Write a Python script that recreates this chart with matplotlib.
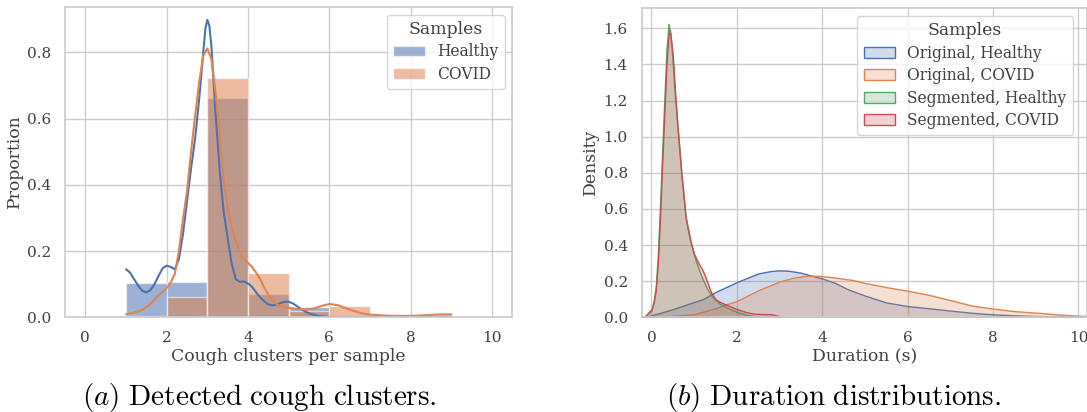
import matplotlib
matplotlib.use("Agg")
import matplotlib.pyplot as plt
import seaborn as sns
from matplotlib.patches import Patch

# --- left panel: detected cough clusters (histogram + kde) ---
bin_edges = [1, 2, 3, 4, 5, 6, 7, 8, 9, 10]
healthy_prop = [0.105, 0.108, 0.662, 0.071, 0.032, 0.0, 0.0, 0.002, 0.0]
covid_prop = [0.005, 0.060, 0.723, 0.133, 0.020, 0.033, 0.006, 0.004, 0.004]

kde_healthy_x = [1.0, 1.1, 1.2, 1.3, 1.4, 1.5, 1.6, 1.7, 1.8, 1.9, 2.0, 2.1, 2.2, 2.3,
                 2.4, 2.5, 2.6, 2.7, 2.8, 2.9, 2.95, 3.0, 3.05, 3.1, 3.2, 3.3, 3.4,
                 3.5, 3.6, 3.7, 3.8, 3.9, 4.0, 4.1, 4.2, 4.3, 4.4, 4.5, 4.6, 4.7,
                 4.8, 4.9, 5.0, 5.1, 5.2, 5.3, 5.4, 5.5, 5.6, 5.7, 5.8, 6.0, 6.5,
                 7.0, 7.5, 8.0, 8.5, 9.0]
kde_healthy_y = [0.145, 0.135, 0.115, 0.095, 0.080, 0.075, 0.082, 0.100, 0.125, 0.148,
                 0.156, 0.152, 0.145, 0.175, 0.250, 0.350, 0.450, 0.540, 0.660, 0.800,
                 0.870, 0.898, 0.880, 0.820, 0.620, 0.450, 0.320, 0.240, 0.160, 0.115,
                 0.107, 0.108, 0.102, 0.092, 0.075, 0.060, 0.048, 0.039, 0.036, 0.038,
                 0.043, 0.047, 0.047, 0.042, 0.034, 0.025, 0.018, 0.012, 0.008, 0.005,
                 0.003, 0.001, 0.0005, 0.0005, 0.001, 0.003, 0.001, 0.002]

kde_covid_x = [1.0, 1.2, 1.4, 1.6, 1.8, 2.0, 2.1, 2.2, 2.3, 2.4, 2.5, 2.6, 2.69, 2.8,
               2.9, 3.0, 3.1, 3.2, 3.27, 3.4, 3.5, 3.6, 3.7, 3.8, 3.9, 4.0, 4.1, 4.2,
               4.3, 4.4, 4.5, 4.6, 4.7, 4.8, 5.0, 5.2, 5.4, 5.6, 5.8, 6.0, 6.2, 6.4,
               6.6, 6.8, 7.0, 7.4, 7.8, 8.2, 8.6, 9.0]
kde_covid_y = [0.009, 0.014, 0.022, 0.040, 0.066, 0.088, 0.105, 0.130, 0.200, 0.295,
               0.380, 0.500, 0.598, 0.710, 0.790, 0.812, 0.780, 0.680, 0.598, 0.420,
               0.330, 0.270, 0.230, 0.195, 0.175, 0.164, 0.152, 0.135, 0.115, 0.090,
               0.068, 0.050, 0.040, 0.034, 0.029, 0.025, 0.023, 0.026, 0.034, 0.040,
               0.037, 0.028, 0.019, 0.012, 0.008, 0.005, 0.004, 0.005, 0.008, 0.009]

# --- right panel: duration distributions ---
orig_healthy_x = [-0.2, 0.0, 0.5, 1.0, 1.2, 1.5, 2.0, 2.5, 2.8, 3.0, 3.2, 3.5, 3.8, 4.0,
                  4.3, 4.6, 5.0, 5.5, 6.0, 6.5, 7.0, 7.5, 8.0, 8.5, 9.0, 9.5, 10.0, 10.3]
orig_healthy_y = [0.004, 0.010, 0.045, 0.085, 0.100, 0.140, 0.195, 0.243, 0.256, 0.260,
                  0.258, 0.247, 0.227, 0.215, 0.190, 0.155, 0.120, 0.082, 0.062, 0.050,
                  0.037, 0.025, 0.016, 0.011, 0.007, 0.005, 0.004, 0.003]

orig_covid_x = [-0.2, 0.0, 0.5, 1.0, 1.2, 1.5, 1.7, 2.0, 2.5, 3.0, 3.3, 3.6, 3.8, 4.0,
                4.3, 4.7, 5.0, 5.5, 6.0, 6.5, 7.0, 7.5, 8.0, 8.5, 9.0, 9.5, 10.0, 10.3]
orig_covid_y = [0.001, 0.003, 0.008, 0.018, 0.030, 0.050, 0.068, 0.090, 0.150, 0.198,
                0.218, 0.229, 0.230, 0.228, 0.220, 0.207, 0.190, 0.167, 0.147, 0.124,
                0.095, 0.065, 0.048, 0.034, 0.026, 0.016, 0.009, 0.006]

seg_healthy_x = [-0.2, -0.13, 0.0, 0.05, 0.1, 0.15, 0.2, 0.25, 0.3, 0.35, 0.4, 0.45,
                 0.5, 0.55, 0.6, 0.7, 0.8, 0.9, 1.0, 1.1, 1.2, 1.3, 1.4, 1.5, 1.6,
                 1.8, 2.0, 2.2, 2.4, 2.6, 2.8]
seg_healthy_y = [0.0, 0.013, 0.045, 0.090, 0.170, 0.350, 0.620, 0.920, 1.200, 1.480,
                 1.625, 1.560, 1.400, 1.220, 1.090, 0.800, 0.560, 0.440, 0.340, 0.270,
                 0.210, 0.160, 0.120, 0.095, 0.075, 0.050, 0.030, 0.015, 0.006, 0.002,
                 0.0]

seg_covid_x = [-0.2, -0.13, 0.0, 0.05, 0.1, 0.15, 0.2, 0.25, 0.3, 0.35, 0.4, 0.43,
               0.5, 0.55, 0.6, 0.7, 0.8, 0.9, 1.0, 1.1, 1.2, 1.3, 1.4, 1.5, 1.6,
               1.8, 2.0, 2.2, 2.4, 2.6, 2.8, 2.9, 3.0, 3.1]
seg_covid_y = [0.0, 0.010, 0.040, 0.080, 0.150, 0.300, 0.550, 0.850, 1.120, 1.400,
               1.560, 1.590, 1.450, 1.260, 1.080, 0.790, 0.550, 0.430, 0.350, 0.300,
               0.260, 0.200, 0.135, 0.100, 0.085, 0.065, 0.045, 0.030, 0.020, 0.018,
               0.017, 0.012, 0.005, 0.0]

sns.set_theme(style="whitegrid", palette="deep")
plt.rcParams["font.family"] = ["DejaVu Serif"]
plt.rcParams["mathtext.fontset"] = "cm"
plt.rcParams["text.color"] = "0.25"
plt.rcParams["axes.labelcolor"] = "0.25"
plt.rcParams["xtick.color"] = "0.25"
plt.rcParams["ytick.color"] = "0.25"

blue, orange, green, red = sns.color_palette("deep")[:4]

fig = plt.figure(figsize=(10.87, 4.12), dpi=100)
ax1 = fig.add_axes([0.0598, 0.2299, 0.4115, 0.7531])
ax2 = fig.add_axes([0.5903, 0.2299, 0.4097, 0.7500])

widths = [bin_edges[i + 1] - bin_edges[i] for i in range(len(bin_edges) - 1)]
ax1.bar(bin_edges[:-1], healthy_prop, width=widths, align="edge", color=blue,
        alpha=0.55, edgecolor="white", linewidth=1, label="Healthy")
ax1.bar(bin_edges[:-1], covid_prop, width=widths, align="edge", color=orange,
        alpha=0.55, edgecolor="white", linewidth=1, label="COVID")
ax1.plot(kde_healthy_x, kde_healthy_y, color=blue, lw=1.5)
ax1.plot(kde_covid_x, kde_covid_y, color=orange, lw=1.5)
ax1.set_xlim(-0.5, 10.5)
ax1.set_ylim(0, 0.937)
ax1.set_xticks([0, 2, 4, 6, 8, 10])
ax1.set_yticks([0.0, 0.2, 0.4, 0.6, 0.8])
ax1.set_xlabel("Cough clusters per sample", fontsize=12.4, labelpad=2)
ax1.set_ylabel("Proportion", fontsize=12.4, labelpad=3)
ax1.tick_params(labelsize=11, pad=4)
ax1.legend(title="Samples", loc="upper right", fontsize=11.2, title_fontsize=12.4,
           labelspacing=0.35)

curves = [
    (orig_healthy_x, orig_healthy_y, blue, "Original, Healthy"),
    (orig_covid_x, orig_covid_y, orange, "Original, COVID"),
    (seg_healthy_x, seg_healthy_y, green, "Segmented, Healthy"),
    (seg_covid_x, seg_covid_y, red, "Segmented, COVID"),
]
handles = []
for xs, ys, col, lab in curves:
    ax2.fill_between(xs, ys, 0, facecolor=(*col, 0.25), edgecolor=col, linewidth=1)
    handles.append(Patch(facecolor=(*col, 0.25), edgecolor=col, label=lab))
ax2.set_xlim(-0.23, 10.2)
ax2.set_ylim(0, 1.711)
ax2.set_xticks([0, 2, 4, 6, 8, 10])
ax2.set_yticks([0.0, 0.2, 0.4, 0.6, 0.8, 1.0, 1.2, 1.4, 1.6])
ax2.set_xlabel("Duration (s)", fontsize=12.4, labelpad=2)
ax2.set_ylabel("Density", fontsize=12.4, labelpad=3)
ax2.tick_params(labelsize=11, pad=4)
ax2.legend(handles=handles, title="Samples", loc="upper right", fontsize=11.2,
           title_fontsize=12.4, labelspacing=0.35, bbox_to_anchor=(0.985, 1.0))

fig.text(0.239, 0.036, r"$(a)\ \mathrm{Detected\ cough\ clusters.}$", fontsize=21,
         ha="center", va="center", color="black")
fig.text(0.767, 0.036, r"$(b)\ \mathrm{Duration\ distributions.}$", fontsize=21,
         ha="center", va="center", color="black")

fig.savefig("out.png", dpi=100)
